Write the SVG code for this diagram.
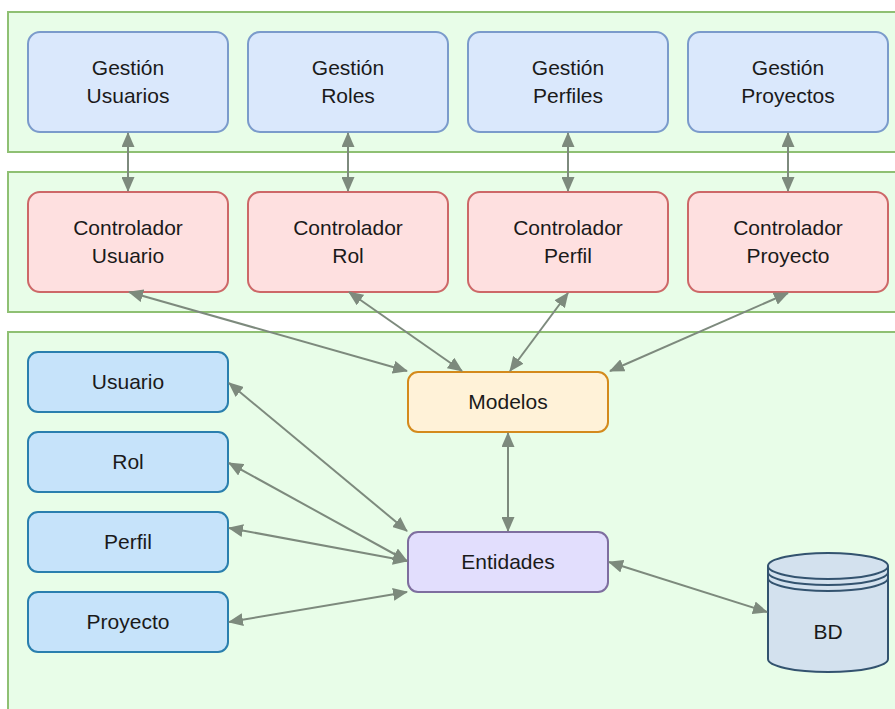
<svg xmlns="http://www.w3.org/2000/svg" width="895" height="709" viewBox="0 0 895 709">
<defs>
<marker id="ah" viewBox="0 0 15 13" markerWidth="15" markerHeight="13" refX="14" refY="6.5" orient="auto-start-reverse" markerUnits="userSpaceOnUse">
<path d="M0,0 L15,6.5 L0,13 z" fill="#7d8a7d"/>
</marker>
<style>
.layer{fill:#e8fde8;stroke:#8fc073;stroke-width:2}
.gest{fill:#dae8fc;stroke:#7b9bcb;stroke-width:2}
.ctrl{fill:#fee0e0;stroke:#cd6868;stroke-width:2}
.ent{fill:#c6e3fa;stroke:#2a7fae;stroke-width:2}
.mod{fill:#fff2d8;stroke:#d48a1c;stroke-width:2}
.ents{fill:#e2defd;stroke:#7e6e9f;stroke-width:2}
.db{fill:#d3e1ee;stroke:#33536f;stroke-width:2}
text{font-family:"Liberation Sans",Arial,sans-serif;font-size:21px;fill:#1a1a1a;text-anchor:middle}
.c{fill:none;stroke:#7d8a7d;stroke-width:2;marker-start:url(#ah);marker-end:url(#ah)}
</style>
</defs>
<rect width="895" height="709" fill="#ffffff"/>
<g id="layers">
<rect class="layer" x="8" y="12" width="900" height="140"/>
<rect class="layer" x="8" y="172" width="900" height="140"/>
<rect class="layer" x="8" y="332" width="900" height="400"/>
</g>
<g id="gestion-usuarios"><rect class="gest" x="28" y="32" width="200" height="100" rx="12"/><text x="128" y="75">Gestión</text><text x="128" y="103">Usuarios</text></g>
<g id="gestion-roles"><rect class="gest" x="248" y="32" width="200" height="100" rx="12"/><text x="348" y="75">Gestión</text><text x="348" y="103">Roles</text></g>
<g id="gestion-perfiles"><rect class="gest" x="468" y="32" width="200" height="100" rx="12"/><text x="568" y="75">Gestión</text><text x="568" y="103">Perfiles</text></g>
<g id="gestion-proyectos"><rect class="gest" x="688" y="32" width="200" height="100" rx="12"/><text x="788" y="75">Gestión</text><text x="788" y="103">Proyectos</text></g>
<g id="ctrl-usuario"><rect class="ctrl" x="28" y="192" width="200" height="100" rx="12"/><text x="128" y="235">Controlador</text><text x="128" y="263">Usuario</text></g>
<g id="ctrl-rol"><rect class="ctrl" x="248" y="192" width="200" height="100" rx="12"/><text x="348" y="235">Controlador</text><text x="348" y="263">Rol</text></g>
<g id="ctrl-perfil"><rect class="ctrl" x="468" y="192" width="200" height="100" rx="12"/><text x="568" y="235">Controlador</text><text x="568" y="263">Perfil</text></g>
<g id="ctrl-proyecto"><rect class="ctrl" x="688" y="192" width="200" height="100" rx="12"/><text x="788" y="235">Controlador</text><text x="788" y="263">Proyecto</text></g>
<g id="usuario"><rect class="ent" x="28" y="352" width="200" height="60" rx="10"/><text x="128" y="389">Usuario</text></g>
<g id="rol"><rect class="ent" x="28" y="432" width="200" height="60" rx="10"/><text x="128" y="469">Rol</text></g>
<g id="perfil"><rect class="ent" x="28" y="512" width="200" height="60" rx="10"/><text x="128" y="549">Perfil</text></g>
<g id="proyecto"><rect class="ent" x="28" y="592" width="200" height="60" rx="10"/><text x="128" y="629">Proyecto</text></g>
<g id="modelos"><rect class="mod" x="408" y="372" width="200" height="60" rx="10"/><text x="508" y="409">Modelos</text></g>
<g id="entidades"><rect class="ents" x="408" y="532" width="200" height="60" rx="10"/><text x="508" y="569">Entidades</text></g>
<g id="bd">
<path class="db" d="M768,566 A60,13 0 0 1 888,566 V659 A60,13 0 0 1 768,659 Z"/>
<path d="M768,566 A60,13 0 0 0 888,566 M768,572 A60,13 0 0 0 888,572 M768,578 A60,13 0 0 0 888,578" fill="none" stroke="#33536f" stroke-width="2"/>
<text x="828" y="639">BD</text>
</g>
<g id="connectors">
<line class="c" x1="128" y1="133" x2="128" y2="191"/>
<line class="c" x1="348" y1="133" x2="348" y2="191"/>
<line class="c" x1="568" y1="133" x2="568" y2="191"/>
<line class="c" x1="788" y1="133" x2="788" y2="191"/>
<line class="c" x1="129" y1="292" x2="407" y2="371"/>
<line class="c" x1="349" y1="292" x2="462" y2="371"/>
<line class="c" x1="568" y1="293" x2="510" y2="371"/>
<line class="c" x1="788" y1="293" x2="610" y2="371"/>
<line class="c" x1="508" y1="433" x2="508" y2="531"/>
<line class="c" x1="229" y1="383" x2="407" y2="531"/>
<line class="c" x1="229" y1="463" x2="407" y2="561"/>
<line class="c" x1="229" y1="528" x2="407" y2="561"/>
<line class="c" x1="229" y1="622" x2="407" y2="592"/>
<line class="c" x1="609" y1="562" x2="767" y2="612"/>
</g>
</svg>
